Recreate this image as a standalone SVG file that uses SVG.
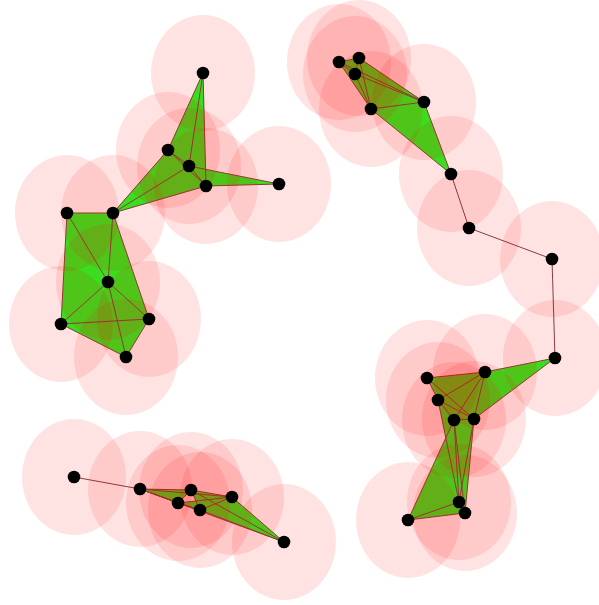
<svg xmlns="http://www.w3.org/2000/svg" width="599" height="605" viewBox="0 0 599 605">
<style>
.f{fill:#22fa22;stroke:none}
.e{stroke:#7a4545;stroke-width:1;fill:none}
.h{fill:#ff0000;fill-opacity:0.11}
.v{fill:#000}
</style>
<rect width="599" height="605" fill="#fff"/>
<g id="faces">
<polygon class="f" points="203,73 168,150 189,166"/>
<polygon class="f" points="203,73 189,166 206,186"/>
<polygon class="f" points="203,73 168,150 206,186"/>
<polygon class="f" points="113,213 168,150 189,166"/>
<polygon class="f" points="113,213 189,166 206,186"/>
<polygon class="f" points="113,213 168,150 206,186"/>
<polygon class="f" points="189,166 206,186 279,184"/>
<polygon class="f" points="67,213 113,213 108,282"/>
<polygon class="f" points="67,213 108,282 61,324"/>
<polygon class="f" points="113,213 108,282 149,319"/>
<polygon class="f" points="108,282 61,324 149,319"/>
<polygon class="f" points="61,324 149,319 126,357"/>
<polygon class="f" points="108,282 61,324 126,357"/>
<polygon class="f" points="339,62 359,58 424,102"/>
<polygon class="f" points="339,62 355,74 371,109"/>
<polygon class="f" points="339,62 371,109 424,102"/>
<polygon class="f" points="359,58 355,74 424,102"/>
<polygon class="f" points="355,74 371,109 424,102"/>
<polygon class="f" points="371,109 424,102 451,174"/>
<polygon class="f" points="427,378 485,372 438,400"/>
<polygon class="f" points="427,378 485,372 474,419"/>
<polygon class="f" points="438,400 485,372 474,419"/>
<polygon class="f" points="438,400 454,420 474,419"/>
<polygon class="f" points="485,372 555,358 474,419"/>
<polygon class="f" points="438,400 454,420 459,502"/>
<polygon class="f" points="454,420 474,419 465,513"/>
<polygon class="f" points="454,420 474,419 459,502"/>
<polygon class="f" points="408,520 454,420 459,502"/>
<polygon class="f" points="408,520 459,502 465,513"/>
<polygon class="f" points="454,420 459,502 465,513"/>
<polygon class="f" points="140,489 191,490 232,497"/>
<polygon class="f" points="140,489 178,503 200,510"/>
<polygon class="f" points="140,489 191,490 178,503"/>
<polygon class="f" points="178,503 200,510 232,497"/>
<polygon class="f" points="191,490 200,510 232,497"/>
<polygon class="f" points="200,510 232,497 284,542"/>
</g>
<g id="connectors">
<path class="e" d="M203,73L168,150M203,73L189,166M203,73L206,186M168,150L189,166M168,150L206,186M189,166L206,186M189,166L279,184M206,186L279,184M113,213L168,150M113,213L189,166M113,213L206,186"/>
<path class="e" d="M67,213L113,213M67,213L61,324M67,213L108,282M113,213L108,282M113,213L149,319M108,282L61,324M108,282L149,319M108,282L126,357M61,324L149,319M61,324L126,357M149,319L126,357"/>
<path class="e" d="M339,62L359,58M339,62L355,74M339,62L371,109M339,62L424,102M359,58L355,74M359,58L424,102M359,58L371,109M355,74L371,109M355,74L424,102M371,109L424,102M371,109L451,174M424,102L451,174M451,174L469,228M469,228L552,259M552,259L555,358"/>
<path class="e" d="M555,358L485,372M555,358L474,419M427,378L485,372M427,378L438,400M427,378L474,419M438,400L485,372M438,400L474,419M438,400L454,420M485,372L454,420M485,372L474,419M454,420L474,419M438,400L459,502M454,420L459,502M454,420L465,513M474,419L459,502M474,419L465,513M408,520L454,420M408,520L459,502M408,520L465,513M459,502L465,513"/>
<path class="e" d="M74,477L140,489M140,489L191,490M140,489L232,497M140,489L178,503M140,489L200,510M140,489L284,542M191,490L178,503M191,490L200,510M191,490L232,497M191,490L284,542M178,503L200,510M178,503L232,497M200,510L232,497M200,510L284,542M232,497L284,542"/>
</g>
<g id="halos">
<ellipse class="h" cx="203" cy="73" rx="52" ry="58"/>
<ellipse class="h" cx="168" cy="150" rx="52" ry="58"/>
<ellipse class="h" cx="189" cy="166" rx="52" ry="58"/>
<ellipse class="h" cx="206" cy="186" rx="52" ry="58"/>
<ellipse class="h" cx="279" cy="184" rx="52" ry="58"/>
<ellipse class="h" cx="113" cy="213" rx="52" ry="58"/>
<ellipse class="h" cx="67" cy="213" rx="52" ry="58"/>
<ellipse class="h" cx="108" cy="282" rx="52" ry="58"/>
<ellipse class="h" cx="61" cy="324" rx="52" ry="58"/>
<ellipse class="h" cx="149" cy="319" rx="52" ry="58"/>
<ellipse class="h" cx="126" cy="357" rx="52" ry="58"/>
<ellipse class="h" cx="339" cy="62" rx="52" ry="58"/>
<ellipse class="h" cx="359" cy="58" rx="52" ry="58"/>
<ellipse class="h" cx="355" cy="74" rx="52" ry="58"/>
<ellipse class="h" cx="371" cy="109" rx="52" ry="58"/>
<ellipse class="h" cx="424" cy="102" rx="52" ry="58"/>
<ellipse class="h" cx="451" cy="174" rx="52" ry="58"/>
<ellipse class="h" cx="469" cy="228" rx="52" ry="58"/>
<ellipse class="h" cx="552" cy="259" rx="52" ry="58"/>
<ellipse class="h" cx="555" cy="358" rx="52" ry="58"/>
<ellipse class="h" cx="485" cy="372" rx="52" ry="58"/>
<ellipse class="h" cx="427" cy="378" rx="52" ry="58"/>
<ellipse class="h" cx="438" cy="400" rx="52" ry="58"/>
<ellipse class="h" cx="454" cy="420" rx="52" ry="58"/>
<ellipse class="h" cx="474" cy="419" rx="52" ry="58"/>
<ellipse class="h" cx="459" cy="502" rx="52" ry="58"/>
<ellipse class="h" cx="465" cy="513" rx="52" ry="58"/>
<ellipse class="h" cx="408" cy="520" rx="52" ry="58"/>
<ellipse class="h" cx="74" cy="477" rx="52" ry="58"/>
<ellipse class="h" cx="140" cy="489" rx="52" ry="58"/>
<ellipse class="h" cx="191" cy="490" rx="52" ry="58"/>
<ellipse class="h" cx="178" cy="503" rx="52" ry="58"/>
<ellipse class="h" cx="200" cy="510" rx="52" ry="58"/>
<ellipse class="h" cx="232" cy="497" rx="52" ry="58"/>
<ellipse class="h" cx="284" cy="542" rx="52" ry="58"/>
</g>
<g id="n1"><circle class="v" cx="203" cy="73" r="6.3"/></g>
<g id="n2"><circle class="v" cx="168" cy="150" r="6.3"/></g>
<g id="n3"><circle class="v" cx="189" cy="166" r="6.3"/></g>
<g id="n4"><circle class="v" cx="206" cy="186" r="6.3"/></g>
<g id="n5"><circle class="v" cx="279" cy="184" r="6.3"/></g>
<g id="n6"><circle class="v" cx="113" cy="213" r="6.3"/></g>
<g id="n7"><circle class="v" cx="67" cy="213" r="6.3"/></g>
<g id="n8"><circle class="v" cx="108" cy="282" r="6.3"/></g>
<g id="n9"><circle class="v" cx="61" cy="324" r="6.3"/></g>
<g id="n10"><circle class="v" cx="149" cy="319" r="6.3"/></g>
<g id="n11"><circle class="v" cx="126" cy="357" r="6.3"/></g>
<g id="n12"><circle class="v" cx="339" cy="62" r="6.3"/></g>
<g id="n13"><circle class="v" cx="359" cy="58" r="6.3"/></g>
<g id="n14"><circle class="v" cx="355" cy="74" r="6.3"/></g>
<g id="n15"><circle class="v" cx="371" cy="109" r="6.3"/></g>
<g id="n16"><circle class="v" cx="424" cy="102" r="6.3"/></g>
<g id="n17"><circle class="v" cx="451" cy="174" r="6.3"/></g>
<g id="n18"><circle class="v" cx="469" cy="228" r="6.3"/></g>
<g id="n19"><circle class="v" cx="552" cy="259" r="6.3"/></g>
<g id="n20"><circle class="v" cx="555" cy="358" r="6.3"/></g>
<g id="n21"><circle class="v" cx="485" cy="372" r="6.3"/></g>
<g id="n22"><circle class="v" cx="427" cy="378" r="6.3"/></g>
<g id="n23"><circle class="v" cx="438" cy="400" r="6.3"/></g>
<g id="n24"><circle class="v" cx="454" cy="420" r="6.3"/></g>
<g id="n25"><circle class="v" cx="474" cy="419" r="6.3"/></g>
<g id="n26"><circle class="v" cx="459" cy="502" r="6.3"/></g>
<g id="n27"><circle class="v" cx="465" cy="513" r="6.3"/></g>
<g id="n28"><circle class="v" cx="408" cy="520" r="6.3"/></g>
<g id="n29"><circle class="v" cx="74" cy="477" r="6.3"/></g>
<g id="n30"><circle class="v" cx="140" cy="489" r="6.3"/></g>
<g id="n31"><circle class="v" cx="191" cy="490" r="6.3"/></g>
<g id="n32"><circle class="v" cx="178" cy="503" r="6.3"/></g>
<g id="n33"><circle class="v" cx="200" cy="510" r="6.3"/></g>
<g id="n34"><circle class="v" cx="232" cy="497" r="6.3"/></g>
<g id="n35"><circle class="v" cx="284" cy="542" r="6.3"/></g>
</svg>
